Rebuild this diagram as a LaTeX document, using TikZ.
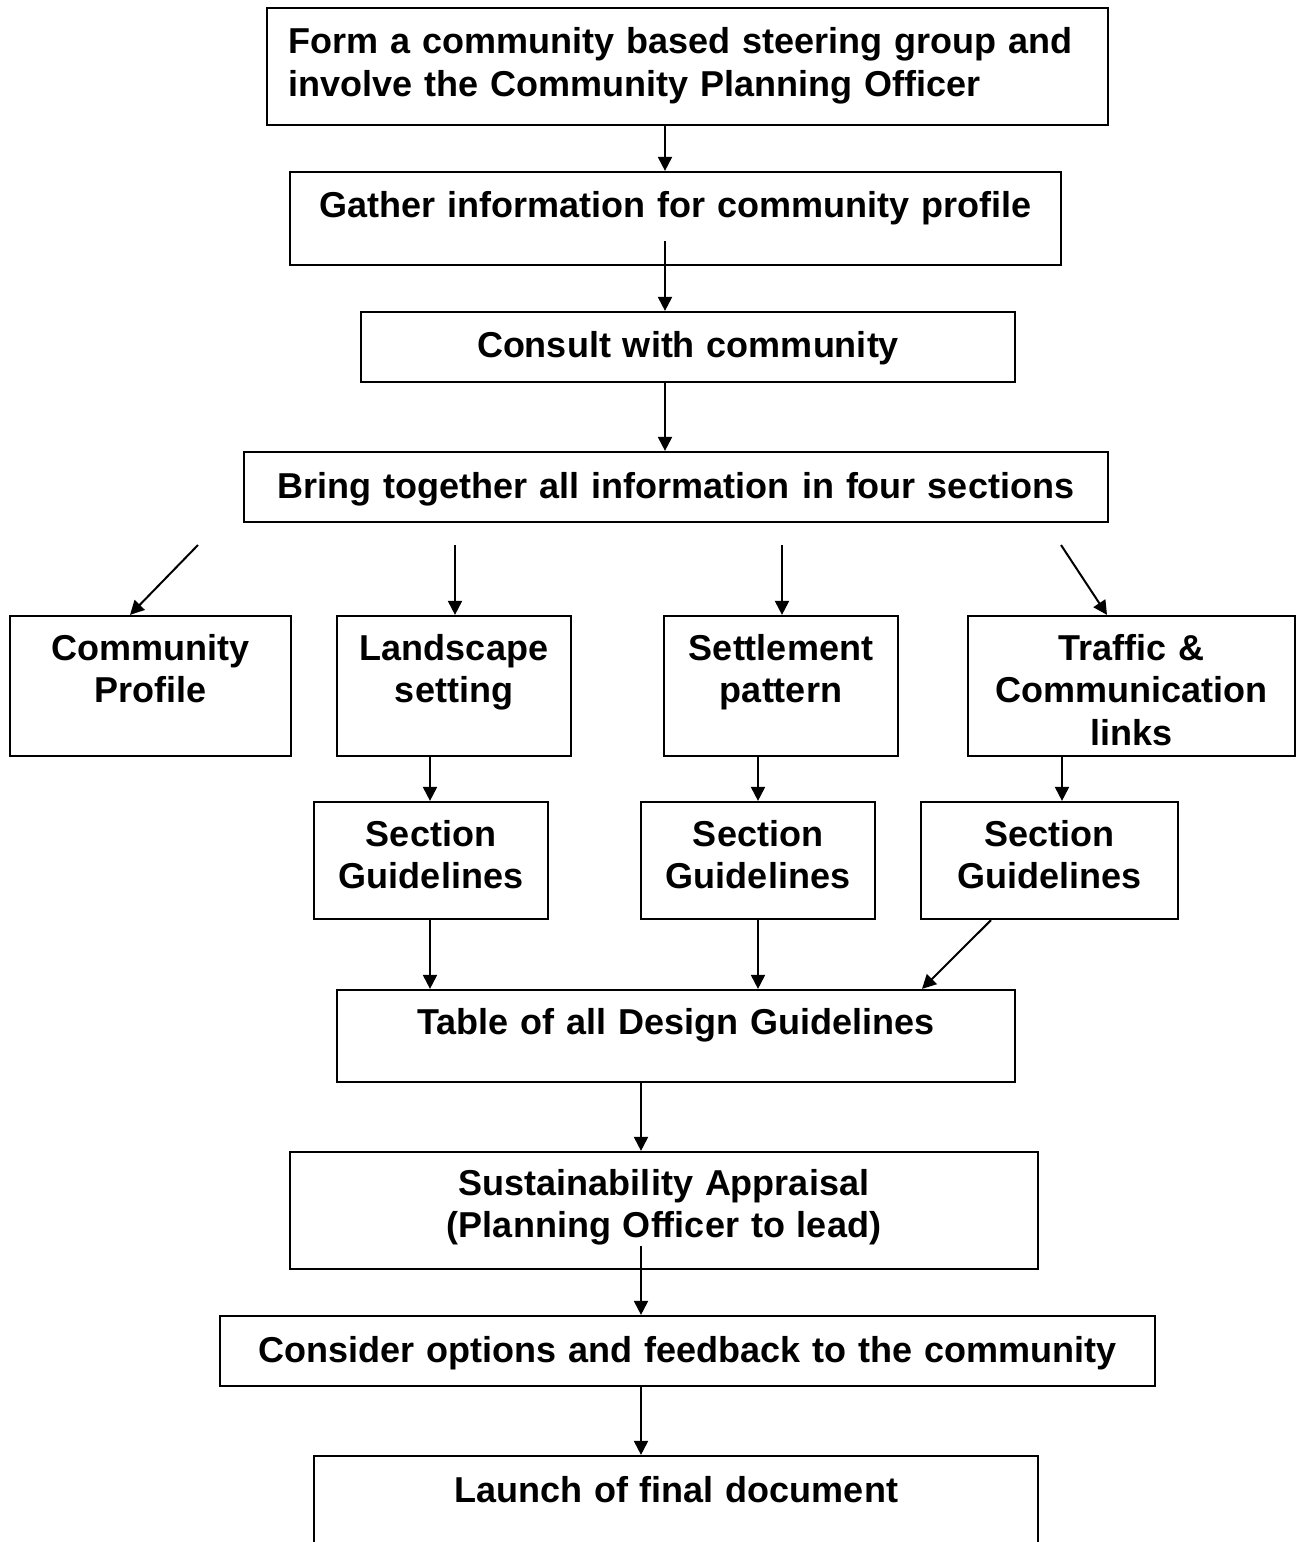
\documentclass[tikz,border=0pt]{standalone}
\usepackage{fontspec}
\setmainfont{Liberation Sans}
\usetikzlibrary{arrows.meta,fit}
\begin{document}
\begin{tikzpicture}[x=0.5pt,y=-0.5pt,
  box/.style={draw=black, line width=1.1pt, inner sep=0pt, rectangle},
  txt/.style={font=\bfseries\fontsize{18}{21.25}\selectfont, inner sep=0pt, text width=480pt, align=center, anchor=base},
  arr/.style={line width=1pt, -{Triangle[length=7pt,width=7pt]}}]
\useasboundingbox (0,0) rectangle (1302,1542);
\clip (0,0) rectangle (1302,1542);

% boxes
\node[box, fit={(267,8) (1108,125)}] (b1) {};
\node[box, fit={(290,172) (1061,265)}] (b2) {};
\node[box, fit={(361,312) (1015,382)}] (b3) {};
\node[box, fit={(244,452) (1108,522)}] (b4) {};
\node[box, fit={(10,616) (291,756)}] (c1) {};
\node[box, fit={(337,616) (571,756)}] (c2) {};
\node[box, fit={(664,616) (898,756)}] (c3) {};
\node[box, fit={(968,616) (1295,756)}] (c4) {};
\node[box, fit={(314,802) (548,919)}] (g1) {};
\node[box, fit={(641,802) (875,919)}] (g2) {};
\node[box, fit={(921,802) (1178,919)}] (g3) {};
\node[box, fit={(337,990) (1015,1082)}] (tb) {};
\node[box, fit={(290,1152) (1038,1269)}] (sa) {};
\node[box, fit={(220,1316) (1155,1386)}] (co) {};
\node[box, fit={(314,1456) (1038,1600)}] (la) {};

% texts
\node[txt, align=left, anchor=base west] (t1) at (288,54) {Form a community based steering group and\\involve the Community Planning Officer};
\node[txt] (t2) at (675.5,217) {Gather information for community profile};
\node[txt] (t3) at (688,357) {Consult with community};
\node[txt] (t4) at (676,498) {Bring together all information in four sections};
\node[txt] (tc1) at (150.5,660) {Community\\Profile};
\node[txt] (tc2) at (454,660) {Landscape\\setting};
\node[txt] (tc3) at (781,660) {Settlement\\pattern};
\node[txt] (tc4) at (1131.5,660) {Traffic \&\\Communication\\links};
\node[txt] (tg1) at (431,846) {Section\\Guidelines};
\node[txt] (tg2) at (758,846) {Section\\Guidelines};
\node[txt] (tg3) at (1049.5,846) {Section\\Guidelines};
\node[txt] (ttb) at (676,1034) {Table of all Design Guidelines};
\node[txt] (tsa) at (664,1195) {Sustainability Appraisal\\(Planning Officer to lead)};
\node[txt] (tco) at (687.5,1362) {Consider options and feedback to the community};
\node[txt] (tla) at (676,1502) {Launch of final document};

% connectors
\coordinate (x665) at (665,0);
\draw[arr] (b1.south -| x665) -- (b2.north -| x665);
\coordinate (s2) at (665,241);
\draw[arr] (s2) -- (s2 |- b3.north);
\draw[arr] (b3.south -| x665) -- (b4.north -| x665);

\coordinate (f1) at (198,545); \coordinate (e1) at (130,0);
\draw[arr] (f1) -- (e1 |- c1.north);
\coordinate (f2) at (455,545);
\draw[arr] (f2) -- (f2 |- c2.north);
\coordinate (f3) at (782,545);
\draw[arr] (f3) -- (f3 |- c3.north);
\coordinate (f4) at (1061,545); \coordinate (e4) at (1107,0);
\draw[arr] (f4) -- (e4 |- c4.north);

\coordinate (x430) at (430,0);
\coordinate (x758) at (758,0);
\coordinate (x1062) at (1062,0);
\draw[arr] (c2.south -| x430) -- (g1.north -| x430);
\draw[arr] (c3.south -| x758) -- (g2.north -| x758);
\draw[arr] (c4.south -| x1062) -- (g3.north -| x1062);
\draw[arr] (g1.south -| x430) -- (tb.north -| x430);
\draw[arr] (g2.south -| x758) -- (tb.north -| x758);
\coordinate (x991) at (991,0); \coordinate (x922) at (922,0);
\draw[arr] (g3.south -| x991) -- (tb.north -| x922);

\coordinate (x641) at (641,0);
\draw[arr] (tb.south -| x641) -- (sa.north -| x641);
\coordinate (s9) at (641,1246);
\draw[arr] (s9) -- (s9 |- co.north);
\draw[arr] (co.south -| x641) -- (la.north -| x641);
\end{tikzpicture}
\end{document}
